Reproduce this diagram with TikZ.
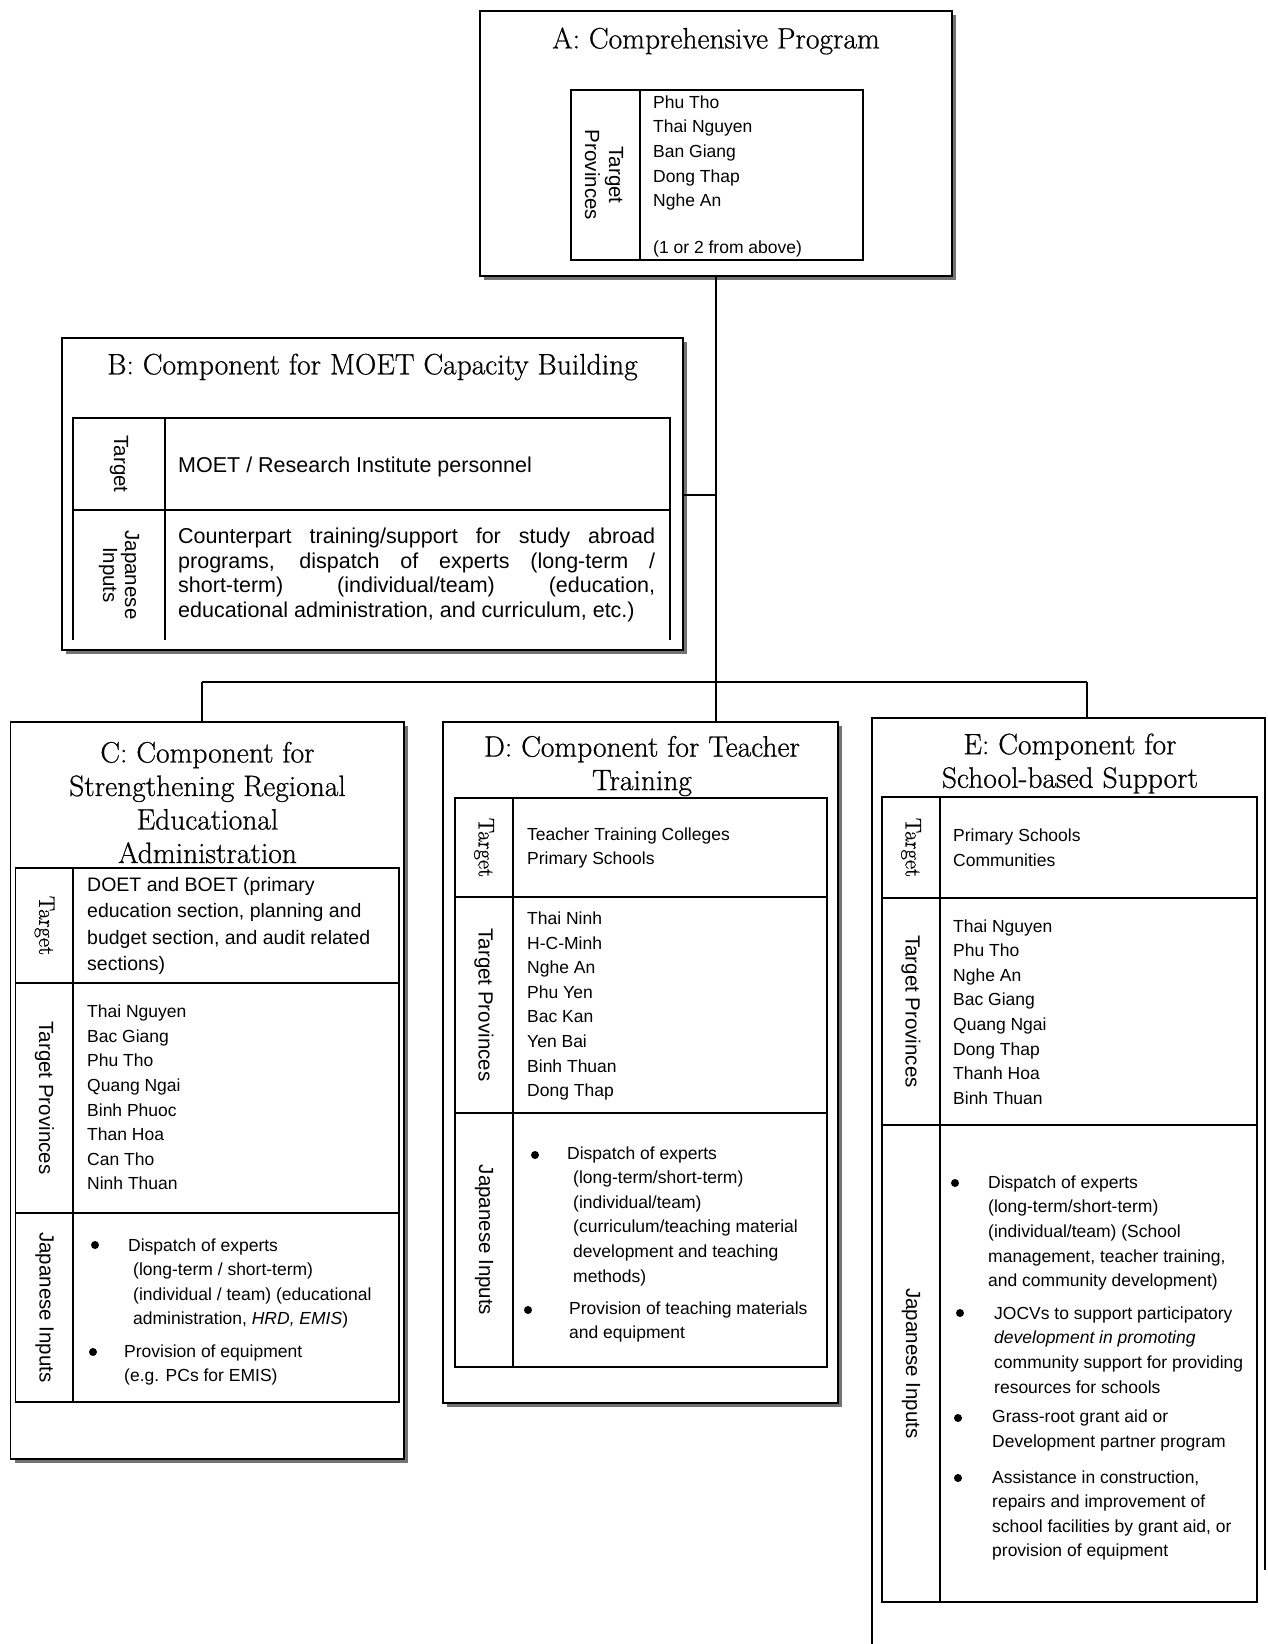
\documentclass[tikz,border=0pt]{standalone}
\usepackage{fontspec}
\newfontfamily\arialf{Liberation Sans}
\newfontfamily\ttlf{Latin Modern Roman}[FakeBold=0.7]
\usetikzlibrary{shadows}
\begin{document}
\begin{tikzpicture}[x=1pt,y=-1pt,
  box/.style={draw, line width=1.5pt, fill=white, inner sep=0,
    drop shadow={shadow xshift=4pt, shadow yshift=-4pt, fill=black!55, opacity=1}},
  tbl/.style={line width=1.3pt},
  link/.style={line width=1.3pt},
  ttl/.style={font=\ttlf\fontsize{29.5}{33.5}\selectfont, align=center, inner sep=0},
  txt/.style={font=\arialf\fontsize{17.5}{24.6}\selectfont, align=left, inner sep=0, anchor=west},
  lab/.style={font=\arialf\fontsize{20.5}{23}\selectfont, align=center, inner sep=0, rotate=-90},
  slab/.style={font=\ttlf\fontsize{22.5}{23}\selectfont, inner sep=0, rotate=-90},
  dot/.style={circle, fill, inner sep=0, minimum size=8pt}]

\fill[white] (0,0) rectangle (1267,1644);
\useasboundingbox (0,0) rectangle (1267,1644);

% ---------- A ----------
\node[box, minimum width=472pt, minimum height=265pt] (A) at (716,143.5) {};
\node[ttl] (Atitle) at (716,41) {A: Comprehensive Program};
\draw[tbl] (571,90) rectangle (863,260) (640,90) -- (640,260);
\node[lab, font=\arialf\fontsize{20.5}{24}\selectfont] (Alab) at (604,175) {Target\\Provinces};
\node[txt] (Alist) at (653,176.5) {Phu Tho\\Thai Nguyen\\Ban Giang\\Dong Thap\\Nghe An\\[22.5pt](1 or 2 from above)};

% ---------- B ----------
\node[box, minimum width=621pt, minimum height=312pt] (B) at (372.5,494) {};
\node[ttl] (Btitle) at (372.5,367) {B: Component for MOET Capacity Building};
\draw[tbl] (73,640) -- (73,418) -- (670,418) -- (670,640) (165,418) -- (165,640) (73,510) -- (670,510);
\node[lab] (Blab1) at (119,464) {Target};
\node[lab, font=\arialf\fontsize{20.5}{22}\selectfont] (Blab2) at (119,575) {Japanese\\Inputs};
\node[txt, font=\arialf\fontsize{21.5}{24.8}\selectfont] (Btgt) at (178,467) {MOET / Research Institute personnel};
\node[txt, font=\arialf\fontsize{21.5}{24.8}\selectfont, text width=477pt, align=justify] (Binp) at (178,575)
  {Counterpart training/support for study abroad\linebreak programs, dispatch of experts (long-term /\linebreak short-term) (individual/team) (education,\linebreak educational administration, and curriculum, etc.)};

% ---------- C ----------
\node[box, minimum width=393.5pt, minimum height=737pt] (C) at (207.25,1090.5) {};
\node[ttl] (Ctitle) at (207.5,802.5) {C: Component for\\Strengthening Regional\\Educational\\Administration};
\draw[tbl] (15.5,868) rectangle (399,1402) (73,868) -- (73,1402) (15.5,983) -- (399,983) (15.5,1213) -- (399,1213);
\node[slab] (Clab1) at (44.5,925.5) {Target};
\node[lab] (Clab2) at (44.5,1098) {Target Provinces};
\node[lab] (Clab3) at (44.5,1307.5) {Japanese Inputs};
\node[txt, font=\arialf\fontsize{19.5}{26.2}\selectfont] (Ctgt) at (87,926) {DOET and BOET (primary\\education section, planning and\\budget section, and audit related\\sections)};
\node[txt] (Cprov) at (87,1097.5) {Thai Nguyen\\Bac Giang\\Phu Tho\\Quang Ngai\\Binh Phuoc\\Than Hoa\\Can Tho\\Ninh Thuan};
\node[dot] (Cb1) at (95,1245) {};
\node[txt] (Ci1) at (128,1283.5) {Dispatch of experts\\\hspace*{5pt}(long-term / short-term)\\\hspace*{5pt}(individual / team) (educational\\\hspace*{5pt}administration, \textit{HRD, EMIS})};
\node[dot] (Cb2) at (93,1352) {};
\node[txt] (Ci2) at (124,1365) {Provision of equipment\\(e.g. PCs for EMIS)};

% ---------- D ----------
\node[box, minimum width=395pt, minimum height=681pt] (D) at (640.5,1062.5) {};
\node[ttl] (Dtitle) at (642,766) {D: Component for Teacher\\Training};
\draw[tbl] (455,798) rectangle (827,1367) (513,798) -- (513,1367) (455,897) -- (827,897) (455,1113) -- (827,1113);
\node[slab] (Dlab1) at (484,847.5) {Target};
\node[lab] (Dlab2) at (484,1005) {Target Provinces};
\node[lab] (Dlab3) at (484,1240) {Japanese Inputs};
\node[txt] (Dtgt) at (527,848) {Teacher Training Colleges\\Primary Schools};
\node[txt] (Dprov) at (527,1006) {Thai Ninh\\H-C-Minh\\Nghe An\\Phu Yen\\Bac Kan\\Yen Bai\\Binh Thuan\\Dong Thap};
\node[dot] (Db1) at (535,1155) {};
\node[txt] (Di1) at (567,1216) {Dispatch of experts\\\hspace*{6pt}(long-term/short-term)\\\hspace*{6pt}(individual/team)\\\hspace*{6pt}(curriculum/teaching material\\\hspace*{6pt}development and teaching\\\hspace*{6pt}methods)};
\node[dot] (Db2) at (528,1310) {};
\node[txt] (Di2) at (569,1322) {Provision of teaching materials\\and equipment};

% ---------- E ----------
\node[inner sep=0, minimum width=393pt, minimum height=926pt] (E) at (1068.5,1181) {};
\coordinate (eR) at (0,1570);
\draw[line width=1.5pt] (E.south west) -- (E.north west) -- (E.north east) -- (E.east |- eR);
\node[ttl] (Etitle) at (1070,763.5) {E: Component for\\School-based Support};
\draw[tbl] (882,797) rectangle (1257,1602) (940,797) -- (940,1602) (882,898) -- (1257,898) (882,1125) -- (1257,1125);
\node[slab] (Elab1) at (911,847.5) {Target};
\node[lab] (Elab2) at (911,1011.5) {Target Provinces};
\node[lab] (Elab3) at (911,1363.5) {Japanese Inputs};
\node[txt] (Etgt) at (953,848) {Primary Schools\\Communities};
\node[txt] (Eprov) at (953,1012) {Thai Nguyen\\Phu Tho\\Nghe An\\Bac Giang\\Quang Ngai\\Dong Thap\\Thanh Hoa\\Binh Thuan};
\node[dot] (Eb1) at (955,1183) {};
\node[txt] (Ei1) at (988,1233) {Dispatch of experts\\(long-term/short-term)\\(individual/team) (School\\management, teacher training,\\and community development)};
\node[dot] (Eb2) at (960,1313) {};
\node[txt] (Ei2) at (994,1350) {JOCVs to support participatory\\\textit{development in promoting}\\community support for providing\\resources for schools};
\node[dot] (Eb3) at (958,1418) {};
\node[txt] (Ei3) at (992,1430.5) {Grass-root grant aid or\\Development partner program};
\node[dot] (Eb4) at (958,1478) {};
\node[txt] (Ei4) at (992,1515.5) {Assistance in construction,\\repairs and improvement of\\school facilities by grant aid, or\\provision of equipment};

% ---------- connectors ----------
\coordinate (busL) at (202,682);
\coordinate (busR) at (1087,682);
\coordinate (bj) at (0,495);
\draw[link] (A.south) -- (A.south |- D.north);
\draw[link] (B.east |- bj) -- (A.south |- bj);
\draw[link] (busL) -- (busR);
\draw[link] (busL) -- (busL |- C.north);
\draw[link] (busR) -- (busR |- E.north);
\end{tikzpicture}
\end{document}
